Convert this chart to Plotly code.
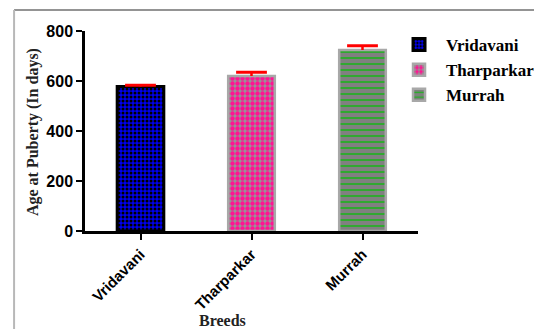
import plotly.graph_objects as go

breeds = ["Vridavani", "Tharparkar", "Murrah"]
means = [578, 620, 724]
errors = [5, 15, 17]
y_ticks = [0, 200, 400, 600, 800]

styles = {
    "Vridavani": dict(bg="#0000f0", fg="#000000", shape=".", size=4, solidity=0.45, line="#000000", lw=3),
    "Tharparkar": dict(bg="#959595", fg="#ff1493", shape=".", size=5, solidity=0.6, line="#a8a8a8", lw=2.5),
    "Murrah": dict(bg="#808080", fg="#22b022", shape="-", size=6, solidity=0.28, line="#a8a8a8", lw=2.5),
}

fig = go.Figure()
for i, b in enumerate(breeds):
    s = styles[b]
    fig.add_trace(go.Bar(
        x=[b], y=[means[i]], name=b, width=0.42,
        marker=dict(color=s["bg"], line=dict(color=s["line"], width=s["lw"]),
                    pattern=dict(shape=s["shape"], bgcolor=s["bg"], fgcolor=s["fg"],
                                 size=s["size"], solidity=s["solidity"], fillmode="replace")),
        error_y=dict(type="data", array=[errors[i]], arrayminus=[0], symmetric=False,
                     color="#ff0000", thickness=2.5, width=0),
    ))

# error-bar caps (upper only)
fig.add_trace(go.Scatter(
    x=breeds, y=[m + e for m, e in zip(means, errors)], mode="markers", showlegend=False,
    hoverinfo="skip",
    marker=dict(symbol="line-ew", size=22, line=dict(color="#ff0000", width=3)),
))

fig.update_layout(
    width=534, height=321,
    margin=dict(l=77, r=124, t=23, b=98, autoexpand=False),
    plot_bgcolor="white", paper_bgcolor="white",
    barmode="overlay",
    showlegend=True,
    legend=dict(x=0.922, y=1.02, xanchor="left", yanchor="top",
                font=dict(family="Liberation Serif", size=17, color="black", weight="bold"),
                bgcolor="rgba(0,0,0,0)", tracegroupgap=0, itemwidth=44),
    xaxis=dict(range=[-0.5, 2.5], categoryorder="array", categoryarray=breeds,
               showline=True, linecolor="black", linewidth=2.5, automargin=False,
               ticks="outside", ticklen=6, tickwidth=2, tickcolor="black",
               tickangle=-45, showgrid=False, zeroline=False,
               tickfont=dict(family="Liberation Sans", size=15, color="black", weight="bold")),
    yaxis=dict(range=[0, 800], tickvals=y_ticks, showline=True, linecolor="black", linewidth=2.5,
               automargin=False,
               ticks="outside", ticklen=6, tickwidth=2, tickcolor="black",
               showgrid=False, zeroline=False,
               tickfont=dict(family="Liberation Sans", size=16, color="black", weight="bold")),
    annotations=[
        dict(text="Age at Puberty (In days)", xref="paper", yref="paper", x=-0.156, y=0.495,
             textangle=-90, showarrow=False, xanchor="center", yanchor="middle",
             font=dict(family="Liberation Serif", size=16, color="#222", weight="bold")),
        dict(text="Breeds", xref="paper", yref="paper", x=0.414, y=-0.445,
             showarrow=False, xanchor="center", yanchor="middle",
             font=dict(family="Liberation Serif", size=16, color="#222", weight="bold")),
    ],
    shapes=[
        dict(type="line", xref="paper", yref="paper", x0=-0.213, x1=1.4, y0=1.105, y1=1.105,
             line=dict(color="#707070", width=1.5)),
        dict(type="line", xref="paper", yref="paper", x0=-0.213, x1=-0.213, y0=1.105, y1=-0.5,
             line=dict(color="#b8b8b8", width=2)),
    ],
)

fig.write_html("out.html")
